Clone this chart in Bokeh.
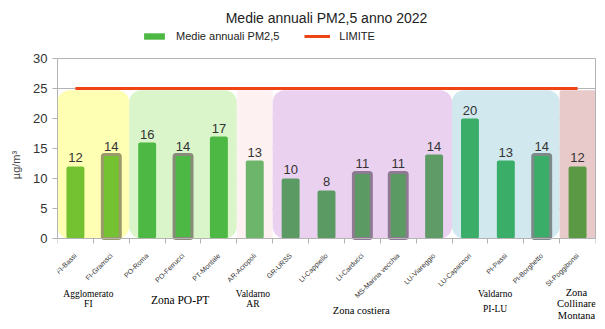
from bokeh.plotting import figure
from bokeh.models import (Range1d, FixedTicker, Legend, LegendItem, Label,
                          ColumnDataSource, LinearAxis)
from bokeh.core.properties import value
from bokeh.embed import file_html
from bokeh.resources import INLINE
import math

# ---------------- data ----------------
stations = ["FI-Bassi", "FI-Gramsci", "PO-Roma", "PO-Ferrucci", "PT-Montale",
            "AR-Acropoli", "GR-URSS", "LI-Cappiello", "LI-Carducci",
            "MS-Marina vecchia", "LU-Viareggio", "LU-Capannori", "PI-Passi",
            "PI-Borghetto", "SI-Poggibonsi"]
pm25 = [12, 14, 16, 14, 17, 13, 10, 8, 11, 11, 14, 20, 13, 14, 12]
limit = [25] * len(stations)
bar_colors = ["#74c231", "#74c231", "#4db843", "#4db843", "#4db843",
              "#6db56b", "#5b9b63", "#5b9b63", "#5b9b63", "#5b9b63",
              "#5f9b66", "#3aae68", "#3aae68", "#3aae68", "#5b9944"]
bordered = [False, True, False, True, False, False, False, False, True, True,
            False, False, False, True, False]
border_palette = {1: "#9a9a6a", 3: "#8a8a7a", 8: "#8e7a92", 9: "#8e7a92", 13: "#7d8a8a"}

zone_names = ["Agglomerato FI", "Zona PO-PT", "Valdarno AR", "Zona costiera",
              "Valdarno PI-LU", "Zona Collinare Montana"]
zone_start = [0, 2, 5, 6, 11, 14]
zone_end = [2, 5, 6, 11, 14, 15]
zone_fill = ["#ffffb3", "#daf5ca", "#fdf1f1", "#ebd1f0", "#d0e8ee", "#e8caca"]
zone_top = 24.7

y_ticks = [0, 5, 10, 15, 20, 25, 30]
title_text = "Medie annuali PM2,5 anno 2022"
series_name = "Medie annuali PM2,5"
limit_name = "LIMITE"

# ---------------- figure ----------------
# frame covers the full height; the value axis is bounded to 0..30
p = figure(width=605, height=329, output_backend="svg", toolbar_location=None,
           x_range=Range1d(0, len(stations)), y_range=Range1d(-15.17, 39.67),
           x_axis_location=None,
           min_border_left=57, min_border_right=10, min_border_bottom=0,
           min_border_top=0)
p.background_fill_color = "white"
p.border_fill_color = "white"
p.outline_line_color = None

centers = [i + 0.5 for i in range(len(stations))]

# zone backgrounds
for s, e, c in zip(zone_start, zone_end, zone_fill):
    rad = 12 if (e - s) > 1 else 2
    p.quad(left=[s], right=[e], bottom=[0], top=[zone_top], fill_color=c,
           line_color=None, border_radius=rad)

# bars
src = ColumnDataSource(dict(x=centers, top=pm25, color=bar_colors,
                            lc=[border_palette.get(i, "#808080") for i in range(len(stations))],
                            la=[1.0 if b else 0.0 for b in bordered],
                            lw=[3 if b else 0.1 for b in bordered]))
bars = p.vbar(x="x", top="top", width=0.5, bottom=0, source=src,
              fill_color="color", line_color="lc", line_alpha="la",
              line_width="lw", border_radius=2)

# value labels
lab_src = ColumnDataSource(dict(x=centers, y=pm25, t=[str(v) for v in pm25]))
p.text(x="x", y="y", text="t", source=lab_src, text_align="center",
       text_baseline="bottom", y_offset=-4, text_font_size="13px",
       text_color="#333333", text_font=value("Liberation Sans"))

# limit line
lim = p.line(x=centers, y=limit, line_color="#ee4416", line_width=3)

# x axis fixed at y = 0
xaxis = LinearAxis(fixed_location=0,
                   ticker=FixedTicker(ticks=centers, minor_ticks=list(range(len(stations) + 1))))
xaxis.major_label_overrides = {c: s for c, s in zip(centers, stations)}
xaxis.major_label_orientation = math.pi / 4
xaxis.major_tick_out = 0
xaxis.major_tick_in = 0
xaxis.minor_tick_out = 5
xaxis.minor_tick_in = 0
xaxis.minor_tick_line_color = "#b3b3b3"
xaxis.axis_line_color = "#b3b3b3"
xaxis.major_label_text_font_size = "7px"
xaxis.major_label_text_font = "Liberation Sans"
xaxis.major_label_text_color = "#333333"
xaxis.major_label_standoff = 11
p.add_layout(xaxis, "below")
p.xgrid.visible = False

p.yaxis.ticker = FixedTicker(ticks=y_ticks)
p.yaxis.bounds = (0, 30)
p.yaxis.axis_label = "µg/m³"
p.yaxis.axis_label_text_font_size = "11px"
p.yaxis.axis_label_text_font_style = "normal"
p.yaxis.axis_label_text_font = "Liberation Sans"
p.yaxis.axis_label_standoff = 8
p.yaxis.major_label_text_font_size = "13px"
p.yaxis.major_label_text_font = "Liberation Sans"
p.yaxis.major_label_text_color = "#333333"
p.yaxis.axis_line_color = "#b3b3b3"
p.yaxis.major_tick_line_color = "#b3b3b3"
p.yaxis.major_tick_out = 5
p.yaxis.major_tick_in = 0
p.yaxis.minor_tick_line_color = None
p.ygrid.grid_line_color = "#b3b3b3"

# right frame edge
raxis = LinearAxis(bounds=(0, 30), ticker=FixedTicker(ticks=[]),
                   axis_line_color="#b3b3b3", major_label_text_font_size="0px",
                   major_tick_line_color=None, minor_tick_line_color=None)
p.add_layout(raxis, "right")

# legend (above the plotting area, inside the frame)
legend = Legend(items=[LegendItem(label=series_name, renderers=[bars], index=2),
                       LegendItem(label=limit_name, renderers=[lim])],
                orientation="horizontal", location=(82, 285),
                border_line_alpha=0, background_fill_alpha=0,
                label_text_font_size="11px", label_text_font="Liberation Sans",
                label_text_color="#222222",
                glyph_width=26, glyph_height=8, spacing=25, label_standoff=9,
                padding=2, margin=0, label_height=12)
p.add_layout(legend, "center")

# title
p.add_layout(Label(x=len(stations) / 2, y=36.67, text=title_text, text_align="center",
                   text_baseline="middle", text_font_size="14px",
                   text_font="Liberation Sans", text_color="#222222"))

# zone labels below axis
zone_lines = [
    (0.86, [("Agglomerato", -9.33), ("FI", -11.0)], "9.5px"),
    (3.42, [("Zona PO-PT", -10.17)], "11.5px"),
    (5.45, [("Valdarno", -9.33), ("AR", -11.0)], "9.5px"),
    (8.47, [("Zona costiera", -12.0)], "10.5px"),
    (12.2, [("Valdarno", -9.17), ("PI-LU", -11.83)], "9.5px"),
    (14.47, [("Zona", -9.0), ("Collinare", -10.83), ("Montana", -12.83)], "10.5px"),
]
for x, lines, fs in zone_lines:
    for t, y in lines:
        p.add_layout(Label(x=x, y=y, text=t, text_align="center",
                           text_baseline="middle", text_font_size=fs,
                           text_font="Liberation Serif", text_color="#000000"))

open("out.html", "w").write(file_html(p, INLINE))
